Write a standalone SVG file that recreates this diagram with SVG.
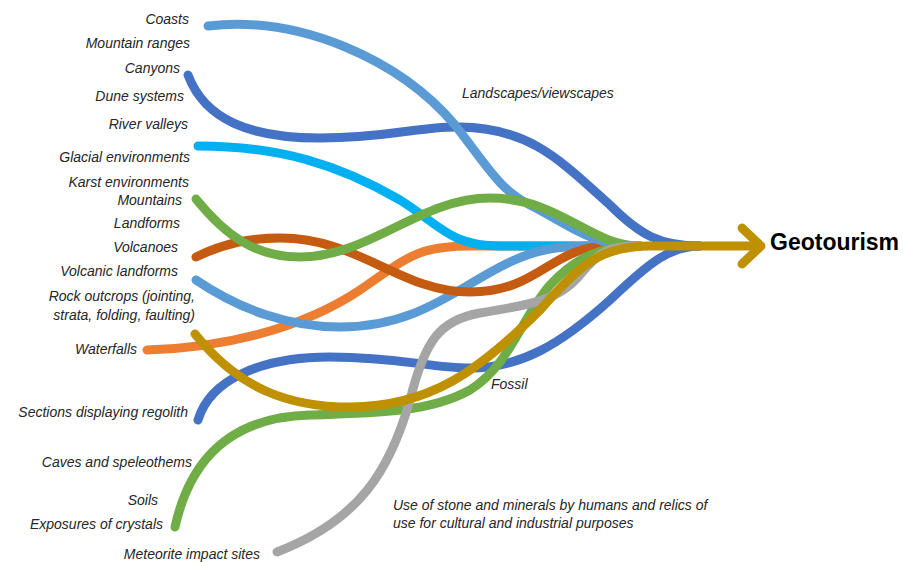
<svg xmlns="http://www.w3.org/2000/svg" width="903" height="563" viewBox="0 0 903 563">
<style>
.lbl{font-family:"Liberation Sans",Arial,sans-serif;font-style:italic;font-size:14px;fill:#262626}
.end{text-anchor:end}
.ln{fill:none;stroke-width:9;stroke-linecap:round;stroke-linejoin:round}
.lb{stroke:#5B9BD5}.db{stroke:#4472C4}.cy{stroke:#00B0F0}.gr{stroke:#70AD47}
.br{stroke:#C55A11}.or{stroke:#ED7D31}.gd{stroke:#BF9000}.gy{stroke:#A5A5A5}
.title{font-family:"Liberation Sans",Arial,sans-serif;font-weight:bold;font-size:23px;fill:#000}
</style>
<rect width="903" height="563" fill="#fff"/>
<g id="connectors">
<path class="ln or" d="M147,350 C220,348 300,330 360,290 C410,255 420,246 470,246 L620,246"/>
<path class="ln cy" d="M198,146 C280,146 340,165 400,200 C440,225 450,246 500,246 L630,246"/>
<path class="ln lb" d="M196,280 C240,310 290,327 340,327 C420,327 460,285 510,262 C540,248 560,246 600,246"/>
<path class="ln br" d="M196,257 C225,243 250,238 280,238 C360,238 400,292 470,292 C540,292 550,246 610,246"/>
<path class="ln db" d="M188,75 C205,120 250,138 320,138 C390,138 420,126 460,127 C530,128 560,160 610,205 C640,235 660,246 700,246"/>
<path class="ln lb" d="M208,26 C300,15 400,60 455,125 C490,170 500,190 530,205 C570,225 590,246 640,246"/>
<path class="ln gr" d="M196,199 C225,235 255,257 300,257 C370,257 420,198 490,198 C560,198 590,246 640,246"/>
<path class="ln db" d="M198,420 C210,380 260,357 330,357 C400,357 430,368 470,368 C520,368 560,345 610,300 C650,262 670,246 700,246"/>
<path class="ln gr" d="M175,527 C190,460 230,417 310,415 C380,413 430,412 470,390 C510,365 520,320 550,285 C575,258 600,246 640,246"/>
<path class="ln gy" d="M277,552 C360,520 390,470 410,400 C425,340 440,320 480,313 C530,305 560,300 580,275 C600,250 610,246 640,246"/>
<path class="ln gd" d="M195,334 C240,390 290,407 350,407 C430,407 480,370 540,310 C580,265 600,246 650,246 L760,246"/>
<path class="ln gd" d="M742,228 L761,246 L742,264"/>
</g>
<g id="n-geotourism"><text class="title" x="770" y="250">Geotourism</text></g>
<g id="n-coasts"><text class="lbl end" x="189" y="24">Coasts</text></g>
<g id="n-mountain-ranges"><text class="lbl end" x="190" y="48">Mountain ranges</text></g>
<g id="n-canyons"><text class="lbl end" x="180" y="73">Canyons</text></g>
<g id="n-dune"><text class="lbl end" x="184" y="101">Dune systems</text></g>
<g id="n-river"><text class="lbl end" x="188" y="129">River valleys</text></g>
<g id="n-glacial"><text class="lbl end" x="190" y="162">Glacial environments</text></g>
<g id="n-karst"><text class="lbl end" x="189" y="187">Karst environments</text></g>
<g id="n-mountains"><text class="lbl end" x="182" y="205">Mountains</text></g>
<g id="n-landforms"><text class="lbl end" x="180" y="228">Landforms</text></g>
<g id="n-volcanoes"><text class="lbl end" x="178" y="252">Volcanoes</text></g>
<g id="n-volcanic-landforms"><text class="lbl end" x="178" y="276">Volcanic landforms</text></g>
<g id="n-rock"><text class="lbl end" x="195" y="301">Rock outcrops (jointing,</text><text class="lbl end" x="195" y="320">strata, folding, faulting)</text></g>
<g id="n-waterfalls"><text class="lbl end" x="137" y="354">Waterfalls</text></g>
<g id="n-sections"><text class="lbl end" x="188" y="417">Sections displaying regolith</text></g>
<g id="n-caves"><text class="lbl end" x="192" y="467">Caves and speleothems</text></g>
<g id="n-soils"><text class="lbl end" x="158" y="505">Soils</text></g>
<g id="n-crystals"><text class="lbl end" x="163" y="529">Exposures of crystals</text></g>
<g id="n-meteorite"><text class="lbl end" x="260" y="559">Meteorite impact sites</text></g>
<g id="n-landscapes"><text class="lbl" x="462" y="98">Landscapes/viewscapes</text></g>
<g id="n-fossil"><text class="lbl" x="491" y="389">Fossil</text></g>
<g id="n-stone"><text class="lbl" x="393" y="510">Use of stone and minerals by humans and relics of</text><text class="lbl" x="393" y="528">use for cultural and industrial purposes</text></g>
</svg>
